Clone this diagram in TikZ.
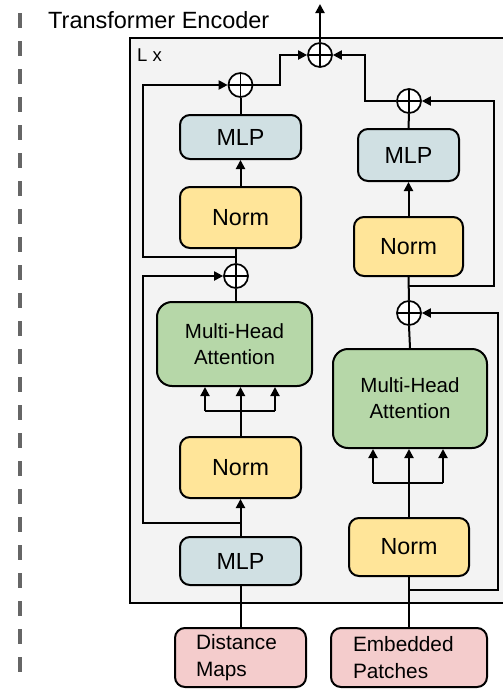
\documentclass[tikz,border=0pt]{standalone}
\usepackage{fontspec}
\setmainfont{Liberation Sans}
\usetikzlibrary{arrows.meta}

\definecolor{mlpfill}{HTML}{D0E0E3}
\definecolor{normfill}{HTML}{FFE599}
\definecolor{attfill}{HTML}{B6D7A8}
\definecolor{infill}{HTML}{F4CCCC}
\definecolor{layerfill}{HTML}{F3F3F3}
\definecolor{sidegray}{HTML}{666666}

\begin{document}
\begin{tikzpicture}[
  x=1pt, y=-1pt,
  box/.style={draw, line width=2pt, rounded corners=10pt, inner sep=0pt, align=center},
  mlpbox/.style={box, fill=mlpfill, font=\fontsize{23.3}{28}\selectfont},
  normbox/.style={box, fill=normfill, font=\fontsize{23.3}{28}\selectfont},
  attbox/.style={box, fill=attfill, rounded corners=15pt, font=\fontsize{20.5}{26}\selectfont},
  inbox/.style={box, fill=infill, align=left, font=\fontsize{20.8}{27}\selectfont},
  sumnode/.style={circle, draw, fill=white, line width=1.7pt, minimum size=24pt, inner sep=0pt,
    path picture={\draw[line width=1.7pt]
      (path picture bounding box.north) -- (path picture bounding box.south)
      (path picture bounding box.west) -- (path picture bounding box.east);}},
  link/.style={line width=2pt},
  flow/.style={link, -{Triangle[length=9pt,width=9pt]}}
]
\useasboundingbox (0,0) rectangle (503,689);

% dashed side marker
\draw[sidegray, line width=4pt, dash pattern=on 15pt off 13pt] (20,13) -- (20,672);

% title
\node[anchor=base west, inner sep=0pt, font=\fontsize{23.5}{28}\selectfont] (title) at (48,28) {Transformer Encoder};

% repeated layer frame
\node[draw, fill=layerfill, line width=2pt, anchor=north west, inner sep=0pt,
      minimum width=376pt, minimum height=565pt] (layer) at (129,37) {};
\node[anchor=base west, inner sep=0pt, font=\fontsize{18.5}{22}\selectfont] (repeat) at (137,61) {L x};

% left branch (distance maps)
\node[mlpbox, minimum width=121pt, minimum height=44pt] (mlpA) at (240.5,137) {MLP};
\node[normbox, minimum width=121pt, minimum height=61pt] (normA) at (240.5,217.5) {Norm};
\node[attbox, minimum width=155pt, minimum height=84pt] (mhaA) at (234.5,344) {Multi-Head\\Attention};
\node[normbox, minimum width=121pt, minimum height=61pt] (normB) at (240.5,467.5) {Norm};
\node[mlpbox, minimum width=121pt, minimum height=48pt] (mlpB) at (240.5,561) {MLP};
\node[inbox, inner xsep=21pt, text width=89pt, minimum height=59pt] (dist) at (240.5,657.5) {Distance\\Maps};

\node[sumnode] (plusL) at (240.5,85) {};
\node[sumnode] (plusM) at (236,276) {};

% right branch (embedded patches)
\node[mlpbox, minimum width=101pt, minimum height=52pt] (mlpR) at (408.5,155) {MLP};
\node[normbox, minimum width=109pt, minimum height=59pt] (normR) at (408.5,246.5) {Norm};
\node[attbox, minimum width=154pt, minimum height=99pt] (mhaR) at (410,398.5) {Multi-Head\\Attention};
\node[normbox, minimum width=120pt, minimum height=58pt] (normR2) at (409,547) {Norm};
\node[inbox, inner xsep=22pt, text width=112pt, minimum height=59pt] (emb) at (409,657.5) {Embedded\\Patches};

\node[sumnode] (plusR) at (409,101) {};
\node[sumnode] (plusR2) at (409,313) {};
\node[sumnode] (plusTop) at (320,55) {};

% junction and corner points
\coordinate (out) at (320,4);
\coordinate (jL) at (280,55);
\coordinate (jR) at (365,55);
\coordinate (rA) at (236,257);
\coordinate (kA) at (143,85);
\coordinate (rB) at (240.5,523);
\coordinate (kB) at (143,276);
\coordinate (rC) at (409,286);
\coordinate (kC) at (494,101);
\coordinate (rD) at (409,590);
\coordinate (kD) at (498,313);
\coordinate (fA) at (240.5,411);
\coordinate (fA1) at (205,411);
\coordinate (fA3) at (275,411);
\coordinate (fB) at (409,483);
\coordinate (fB1) at (373,483);
\coordinate (fB3) at (443,483);

% final sum and output
\draw[flow] (plusTop.north) -- (out);
\draw[flow] (plusL.east) -| (jL) -- (plusTop.west);
\draw[flow] (plusR.west) -| (jR) -- (plusTop.east);

% left branch connectors
\draw[link] (dist.north) -- (mlpB.south);
\draw[flow] (mlpB.north) -- (normB.south);
\draw[link] (normB.north) -- (fA);
\draw[link] (fA1) -- (fA3);
\draw[flow] (fA1) -- (fA1 |- mhaA.south);
\draw[flow] (fA) -- (fA |- mhaA.south);
\draw[flow] (fA3) -- (fA3 |- mhaA.south);
\draw[link] (plusM |- mhaA.north) -- (plusM.south);
\draw[link] (plusM.north) -- (plusM |- normA.south);
\draw[flow] (normA.north) -- (mlpA.south);
\draw[link] (mlpA.north) -- (plusL.south);
\draw[flow] (rB) -| (kB) -- (plusM.west);
\draw[flow] (rA) -| (kA) -- (plusL.west);

% right branch connectors
\draw[link] (emb.north) -- (normR2.south);
\draw[link] (normR2.north) -- (fB);
\draw[link] (fB1) -- (fB3);
\draw[flow] (fB1) -- (fB1 |- mhaR.south);
\draw[flow] (fB) -- (fB |- mhaR.south);
\draw[flow] (fB3) -- (fB3 |- mhaR.south);
\draw[link] (mhaR.north) -- (plusR2.south);
\draw[link] (plusR2.north) -- (normR.south);
\draw[flow] (normR.north) -- (mlpR.south);
\draw[link] (mlpR.north) -- (plusR.south);
\draw[flow] (rD) -| (kD) -- (plusR2.east);
\draw[flow] (rC) -| (kC) -- (plusR.east);
\end{tikzpicture}
\end{document}
